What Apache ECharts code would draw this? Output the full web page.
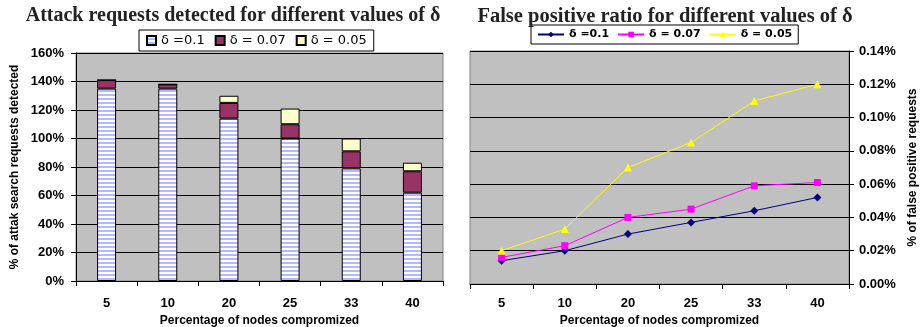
<!DOCTYPE html>
<html>
<head>
<meta charset="utf-8">
<script src="https://cdn.jsdelivr.net/npm/echarts@6/dist/echarts.min.js"></script>
<style>html,body{margin:0;padding:0;background:#fff}#c{width:920px;height:327px}</style>
</head>
<body>
<div id="c"></div>
<script>
const categories = ['5', '10', '20', '25', '33', '40'];
// Left chart: stacked % of attack search requests detected
const attack01 = [135, 135, 114, 100, 79, 62];
const attack007 = [6, 3, 11, 10, 12, 15];
const attack005 = [0, 0, 5, 11, 9, 6];
// Right chart: % of false positive requests
const fp01 = [0.014, 0.020, 0.030, 0.037, 0.044, 0.052];
const fp007 = [0.016, 0.023, 0.040, 0.045, 0.059, 0.061];
const fp005 = [0.020, 0.033, 0.070, 0.085, 0.110, 0.120];
const seriesNames = ['δ =0.1', 'δ = 0.07', 'δ = 0.05'];

// striped pattern for δ=0.1 bars
const pc = document.createElement('canvas');
pc.width = 4; pc.height = 4;
const pctx = pc.getContext('2d');
pctx.fillStyle = '#ffffff'; pctx.fillRect(0, 0, 4, 4);
pctx.fillStyle = '#b4b8ff'; pctx.fillRect(0, 2, 4, 2);
const stripe = { image: pc, repeat: 'repeat' };

const tickFont = { fontFamily: 'Liberation Sans', fontWeight: 'bold', fontSize: 13, color: '#000' };
const nameFont = { fontFamily: 'Liberation Sans', fontWeight: 'bold', fontSize: 12, color: '#000' };

const chart = echarts.init(document.getElementById('c'), null, { renderer: 'canvas' });
chart.setOption({
  animation: false,
  title: [
    { text: 'Attack requests detected for different values of δ', left: 228, top: 1, textAlign: 'center',
      textStyle: { fontFamily: 'Liberation Serif', fontWeight: 'bold', fontSize: 20, color: '#222' } },
    { text: 'False positive ratio for different values of δ', left: 660, top: 1, textAlign: 'center',
      textStyle: { fontFamily: 'Liberation Serif', fontWeight: 'bold', fontSize: 20.5, color: '#222' } }
  ],
  legend: [
    { data: seriesNames.map(n => n), left: 139, top: 30, width: 260, orient: 'horizontal',
      backgroundColor: '#fff', borderColor: '#000', borderWidth: 1, padding: [4, 7, 4, 7],
      itemWidth: 9, itemHeight: 9, itemGap: 10, icon: 'rect',
      selectedMode: false,
      textStyle: { fontFamily: 'DejaVu Sans', fontSize: 13, color: '#000' } },
    { data: seriesNames.map(n => 'R' + n), left: 531, top: 25, orient: 'horizontal',
      backgroundColor: '#fff', borderColor: '#000', borderWidth: 1, padding: [4, 6, 4, 6],
      itemWidth: 26, itemHeight: 7, itemGap: 8, selectedMode: false,
      textStyle: { fontFamily: 'DejaVu Sans', fontWeight: 'bold', fontSize: 11, color: '#000' },
      formatter: n => n.substring(1) }
  ],
  grid: [
    { left: 76, right: 477, top: 53, bottom: 46, outerBoundsMode: 'none', containLabel: false,
      show: true, backgroundColor: '#C0C0C0', borderColor: '#808080', borderWidth: 1 },
    { left: 470, right: 71, top: 51, bottom: 43, outerBoundsMode: 'none', containLabel: false,
      show: true, backgroundColor: '#C0C0C0', borderColor: '#808080', borderWidth: 1 }
  ],
  xAxis: [
    { type: 'category', gridIndex: 0, data: categories, boundaryGap: true,
      name: 'Percentage of nodes compromized', nameLocation: 'middle', nameGap: 32, nameTextStyle: nameFont,
      axisLine: { lineStyle: { color: '#000', width: 1 } },
      axisTick: { show: true, alignWithLabel: false, length: 5, lineStyle: { color: '#000' } },
      axisLabel: Object.assign({ margin: 16 }, tickFont) },
    { type: 'category', gridIndex: 1, data: categories, boundaryGap: true,
      name: 'Percentage of nodes compromized', nameLocation: 'middle', nameGap: 28, nameTextStyle: nameFont,
      axisLine: { lineStyle: { color: '#000', width: 1 } },
      axisTick: { show: true, alignWithLabel: false, length: 5, lineStyle: { color: '#000' } },
      axisLabel: Object.assign({ margin: 13 }, tickFont) }
  ],
  yAxis: [
    { type: 'value', gridIndex: 0, min: 0, max: 160, interval: 20,
      name: '% of attak search requests detected', nameLocation: 'middle', nameGap: 55, nameTextStyle: nameFont,
      axisLine: { show: true, lineStyle: { color: '#000' } },
      axisTick: { show: true, length: 5, lineStyle: { color: '#000' } },
      splitLine: { lineStyle: { color: '#000', width: 1 } },
      axisLabel: Object.assign({ margin: 12, formatter: '{value}%' }, tickFont) },
    { type: 'value', gridIndex: 1, position: 'right', min: 0, max: 0.14, interval: 0.02,
      name: '% of false positive requests', nameLocation: 'middle', nameGap: 58, nameRotate: 90, nameTextStyle: nameFont,
      axisLine: { show: true, lineStyle: { color: '#000' } },
      axisTick: { show: true, length: 5, lineStyle: { color: '#000' } },
      splitLine: { lineStyle: { color: '#000', width: 1 } },
      axisLabel: Object.assign({ margin: 10, formatter: v => v.toFixed(2) + '%' }, tickFont) }
  ],
  series: [
    { name: seriesNames[0], type: 'bar', stack: 'a', xAxisIndex: 0, yAxisIndex: 0, data: attack01, barWidth: 19,
      itemStyle: { color: stripe, borderColor: '#000', borderWidth: 1 } },
    { name: seriesNames[1], type: 'bar', stack: 'a', xAxisIndex: 0, yAxisIndex: 0, data: attack007, barWidth: 19,
      itemStyle: { color: '#993366', borderColor: '#000', borderWidth: 1 } },
    { name: seriesNames[2], type: 'bar', stack: 'a', xAxisIndex: 0, yAxisIndex: 0, data: attack005, barWidth: 19,
      itemStyle: { color: '#FFFFCC', borderColor: '#000', borderWidth: 1 } },
    { name: 'R' + seriesNames[0], type: 'line', xAxisIndex: 1, yAxisIndex: 1, data: fp01,
      symbol: 'diamond', symbolSize: 8, lineStyle: { color: '#000080', width: 1 }, itemStyle: { color: '#000080' } },
    { name: 'R' + seriesNames[1], type: 'line', xAxisIndex: 1, yAxisIndex: 1, data: fp007,
      symbol: 'rect', symbolSize: 7, lineStyle: { color: '#FF00FF', width: 1 }, itemStyle: { color: '#FF00FF' } },
    { name: 'R' + seriesNames[2], type: 'line', xAxisIndex: 1, yAxisIndex: 1, data: fp005,
      symbol: 'triangle', symbolSize: 8, lineStyle: { color: '#FFFF00', width: 1 }, itemStyle: { color: '#FFFF00' } }
  ]
});
</script>
</body>
</html>
